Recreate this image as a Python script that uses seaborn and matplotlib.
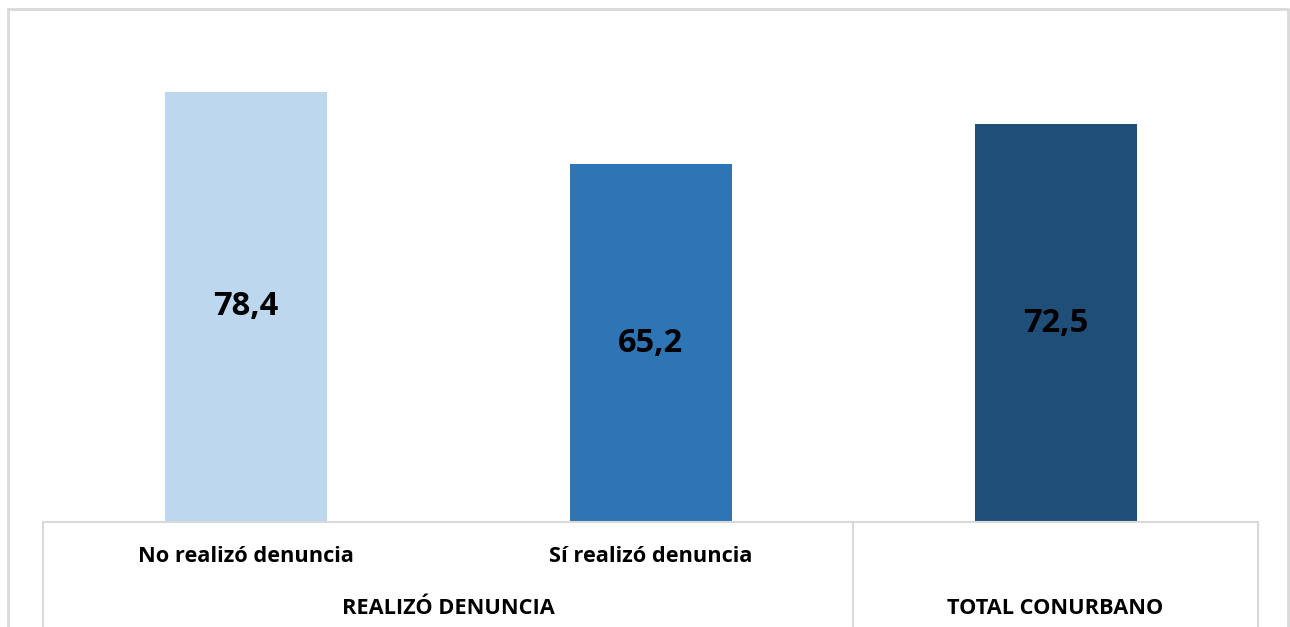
import pandas as pd
import matplotlib
matplotlib.use('Agg')
import matplotlib.pyplot as plt
import matplotlib.transforms as mtransforms
from matplotlib.lines import Line2D
import seaborn as sns

# chart values
categories = ['No realizó denuncia', 'Sí realizó denuncia', 'TOTAL CONURBANO']
values = [78.4, 65.2, 72.5]
value_labels = ['78,4', '65,2', '72,5']
sub_labels = ['No realizó denuncia', 'Sí realizó denuncia', '']
group_labels = ['REALIZÓ DENUNCIA', 'TOTAL CONURBANO']
group_spans = [(-0.5, 1.5), (1.5, 2.5)]
colors = ['#BDD7EE', '#2E75B6', '#1F4E79']

sns.set_style('white')
plt.rcParams['font.family'] = ['Open Sans', 'DejaVu Sans']

W, H = 1290, 627
fig = plt.figure(figsize=(W / 100, H / 100), dpi=100)
ax = fig.add_axes([43 / W, (H - 522) / H, (1258 - 43) / W, (522 - 28) / H])

df = pd.DataFrame({'cat': categories, 'val': values})
sns.barplot(data=df, x='cat', y='val', hue='cat', palette=colors,
            width=0.4, legend=False, ax=ax, saturation=1, linewidth=0)

ax.set_xlim(-0.5, 2.5)
ax.set_ylim(0, 90)
ax.set_xticks([])
ax.set_yticks([])
ax.set_xlabel('')
ax.set_ylabel('')
for side in ['top', 'left', 'right']:
    ax.spines[side].set_visible(False)
ax.spines['bottom'].set_color('#D9D9D9')
ax.spines['bottom'].set_linewidth(1.5)

# value labels inside the bars
for i, (v, lab) in enumerate(zip(values, value_labels)):
    ax.text(i, v / 2, lab, ha='center', va='center', fontsize=23.5,
            fontweight='bold', color='black')

# multi-level category axis
trans = mtransforms.blended_transform_factory(ax.transData, fig.transFigure)
for xs in [-0.5, 1.5, 2.5]:
    ax.add_line(Line2D([xs, xs], [0, (H - 522) / H], transform=trans,
                       color='#D9D9D9', lw=1.5, clip_on=False))
for i, lab in enumerate(sub_labels):
    if lab:
        ax.text(i, 1 - 557 / H, lab, transform=trans, ha='center', va='center',
                fontsize=15.7, fontweight='bold', color='black')
for (a, b), lab in zip(group_spans, group_labels):
    ax.text((a + b) / 2, 1 - 609 / H, lab, transform=trans, ha='center',
            va='center', fontsize=15.7, fontweight='bold', color='black')

# outer chart frame
fig.add_artist(Line2D([8 / W, 8 / W], [0, 1 - 9 / H], color='#D9D9D9', lw=2))
fig.add_artist(Line2D([8 / W, 1288 / W], [1 - 9 / H, 1 - 9 / H], color='#D9D9D9', lw=2))
fig.add_artist(Line2D([1288 / W, 1288 / W], [0, 1 - 9 / H], color='#D9D9D9', lw=2))

fig.savefig('out.png', dpi=100, facecolor='white')
